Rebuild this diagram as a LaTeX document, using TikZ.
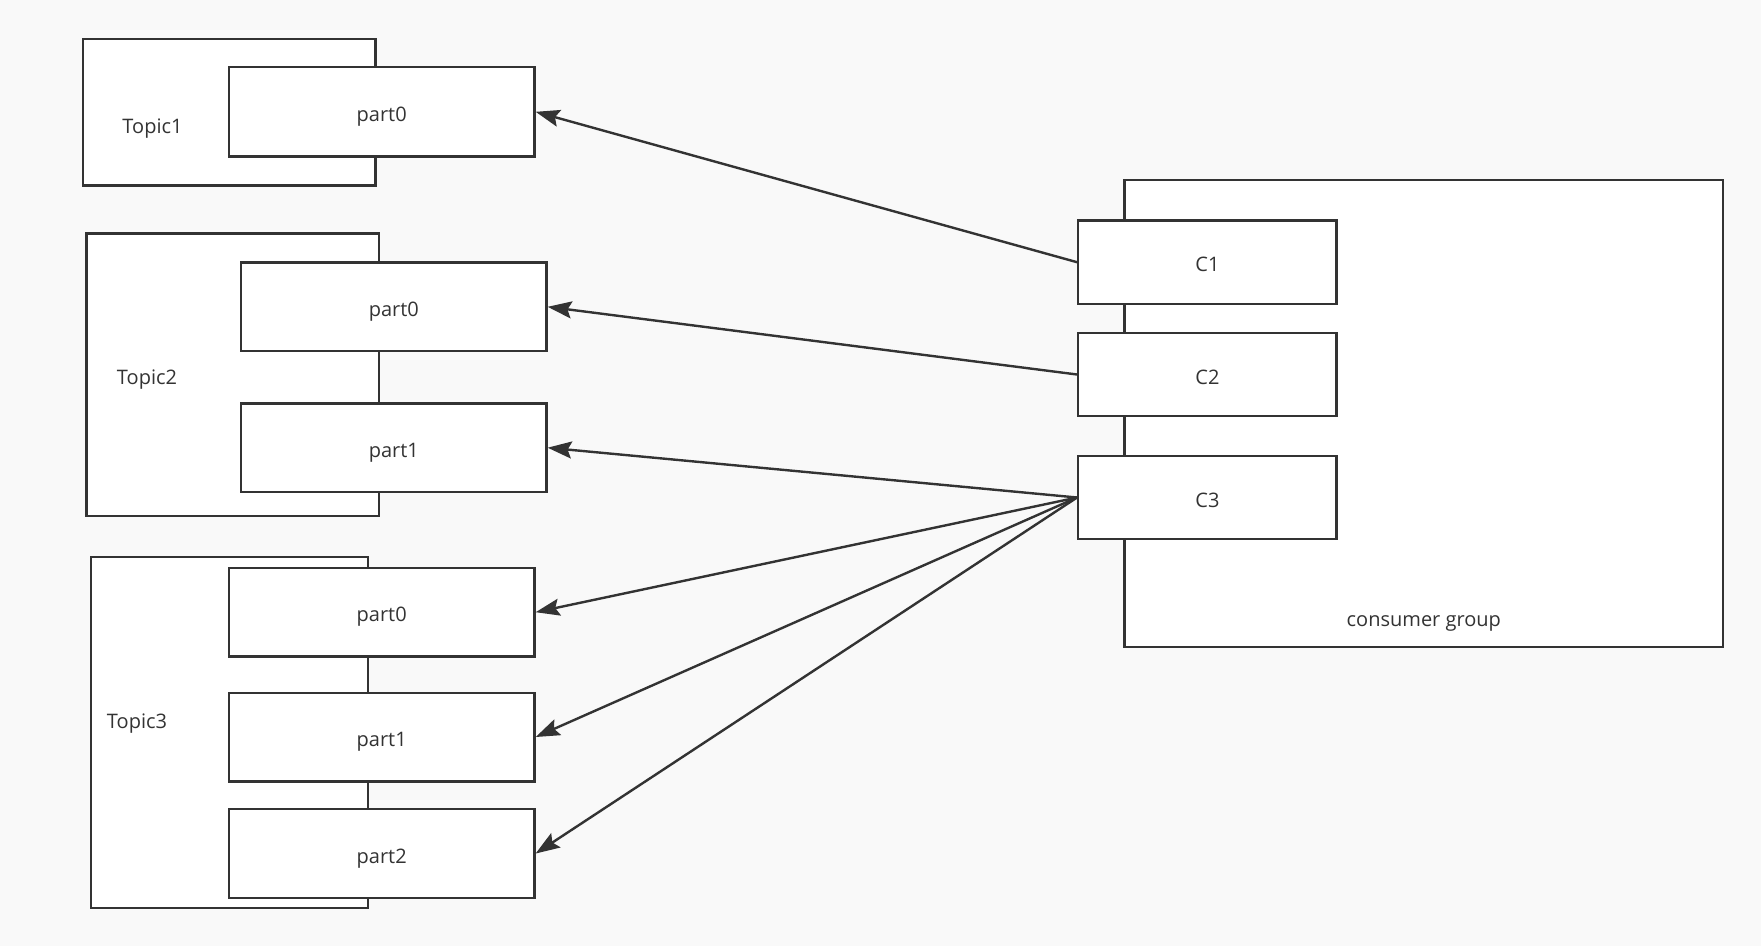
\documentclass[tikz,border=0pt]{standalone}
\usepackage{fontspec}
\setmainfont{Open Sans}
\usetikzlibrary{arrows.meta}
\definecolor{ln}{HTML}{333333}
\definecolor{bg}{HTML}{F9F9F9}
\tikzset{
  box/.style={draw=ln, line width=2.4pt, fill=white, inner sep=0pt, font=\fontsize{20}{23}\selectfont, text=ln, text height=19pt, text depth=0pt},
  lbl/.style={inner sep=0pt, font=\fontsize{20}{23}\selectfont, text=ln},
  arr/.style={draw=ln, line width=2.4pt, -{Stealth[length=24pt,width=17pt,inset=4pt]}}
}
\begin{document}
\begin{tikzpicture}[x=1pt,y=-1pt]
\useasboundingbox (0,0) rectangle (1761,946);
\fill[bg] (0,0) rectangle (1761,946);
% Topic boxes
\node[box, minimum width=292.3pt, minimum height=146.6pt] (t1) at (229.3,112.2) {};
\node[box, minimum width=292.3pt, minimum height=282.6pt] (t2) at (232.7,374.8) {};
\node[box, minimum width=276.9pt, minimum height=350.6pt] (t3) at (229.7,732.5) {};
\node[lbl, anchor=base] (t1l) at (152.5,133.3) {Topic1};
\node[lbl, anchor=base] (t2l) at (147,384) {Topic2};
\node[lbl, anchor=base] (t3l) at (137,728.3) {Topic3};
% partitions
\node[box, minimum width=305.6pt, minimum height=89.3pt] (a0) at (381.7,111.8) {part0};
\node[box, minimum width=305.3pt, minimum height=88.6pt] (b0) at (393.8,306.8) {part0};
\node[box, minimum width=305.3pt, minimum height=88.6pt] (b1) at (393.8,447.7) {part1};
\node[box, minimum width=305.6pt, minimum height=88.6pt] (c0) at (381.7,612.2) {part0};
\node[box, minimum width=305.6pt, minimum height=88.6pt] (c1) at (381.7,737) {part1};
\node[box, minimum width=305.6pt, minimum height=88.6pt] (c2) at (381.7,853.5) {part2};
% consumer group
\node[box, minimum width=598.5pt, minimum height=466.9pt] (cg) at (1423.8,413.7) {};
\node[lbl, anchor=base] (cgl) at (1423.8,626.7) {consumer group};
\node[box, minimum width=258.3pt, minimum height=83.3pt] (k1) at (1207.4,262.2) {C1};
\node[box, minimum width=258.3pt, minimum height=83.3pt] (k2) at (1207.4,374.5) {C2};
\node[box, minimum width=258.3pt, minimum height=83.3pt] (k3) at (1207.4,497.5) {C3};
% arrows
\draw[arr] (k1.west) -- (a0.east);
\draw[arr] (k2.west) -- (b0.east);
\draw[arr] (k3.west) -- (b1.east);
\draw[arr] (k3.west) -- (c0.east);
\draw[arr] (k3.west) -- (c1.east);
\draw[arr] (k3.west) -- (c2.east);
\end{tikzpicture}
\end{document}
